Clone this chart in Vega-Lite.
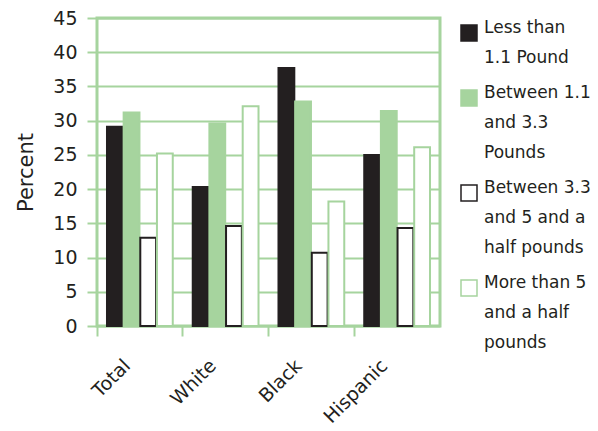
{
  "$schema": "https://vega.github.io/schema/vega-lite/v6.json",
  "width": 343,
  "height": 308,
  "autosize": "none",
  "padding": {"left": 97, "top": 18, "right": 158, "bottom": 105},
  "background": "white",
  "data": {
    "values": [
      {"group": "Total", "weight": "Less than 1.1 Pound", "percent": 29.1},
      {"group": "Total", "weight": "Between 1.1 and 3.3 Pounds", "percent": 31.2},
      {"group": "Total", "weight": "Between 3.3 and 5 and a half pounds", "percent": 12.9},
      {"group": "Total", "weight": "More than 5 and a half pounds", "percent": 25.2},
      {"group": "White", "weight": "Less than 1.1 Pound", "percent": 20.3},
      {"group": "White", "weight": "Between 1.1 and 3.3 Pounds", "percent": 29.6},
      {"group": "White", "weight": "Between 3.3 and 5 and a half pounds", "percent": 14.6},
      {"group": "White", "weight": "More than 5 and a half pounds", "percent": 32.1},
      {"group": "Black", "weight": "Less than 1.1 Pound", "percent": 37.7},
      {"group": "Black", "weight": "Between 1.1 and 3.3 Pounds", "percent": 32.8},
      {"group": "Black", "weight": "Between 3.3 and 5 and a half pounds", "percent": 10.7},
      {"group": "Black", "weight": "More than 5 and a half pounds", "percent": 18.2},
      {"group": "Hispanic", "weight": "Less than 1.1 Pound", "percent": 25.0},
      {"group": "Hispanic", "weight": "Between 1.1 and 3.3 Pounds", "percent": 31.4},
      {"group": "Hispanic", "weight": "Between 3.3 and 5 and a half pounds", "percent": 14.3},
      {"group": "Hispanic", "weight": "More than 5 and a half pounds", "percent": 26.1}
    ]
  },
  "mark": {"type": "bar", "strokeWidth": 2},
  "encoding": {
    "x": {
      "field": "group",
      "type": "nominal",
      "sort": ["Total", "White", "Black", "Hispanic"],
      "scale": {"paddingInner": 0, "paddingOuter": 0},
      "axis": {
        "title": null,
        "labelAngle": -45,
        "labelAlign": "right",
        "labelBaseline": "top",
        "domain": false,
        "ticks": true,
        "tickColor": "#a6d49e",
        "tickWidth": 2,
        "tickSize": 10,
        "bandPosition": 0,
        "labelOffset": -19,
        "labelPadding": 20,
        "labelFont": "DejaVu Sans",
        "labelFontSize": 19,
        "labelColor": "#231f20"
      }
    },
    "xOffset": {
      "field": "weight",
      "type": "nominal",
      "sort": ["Less than 1.1 Pound", "Between 1.1 and 3.3 Pounds", "Between 3.3 and 5 and a half pounds", "More than 5 and a half pounds"],
      "scale": {"paddingInner": 0.05, "paddingOuter": 0.6}
    },
    "y": {
      "field": "percent",
      "type": "quantitative",
      "scale": {"domain": [0, 45], "nice": false},
      "axis": {
        "values": [0, 5, 10, 15, 20, 25, 30, 35, 40, 45],
        "title": "Percent",
        "titleFont": "DejaVu Sans",
        "titleFontSize": 21,
        "titleFontWeight": "normal",
        "titleColor": "#231f20",
        "titlePadding": 16,
        "grid": true,
        "gridColor": "#a6d49e",
        "gridWidth": 2,
        "gridOpacity": 1,
        "domain": false,
        "tickColor": "#a6d49e",
        "tickWidth": 2,
        "tickSize": 10,
        "labelPadding": 10,
        "labelFont": "DejaVu Sans",
        "labelFontSize": 19,
        "labelColor": "#231f20"
      }
    },
    "fill": {
      "field": "weight",
      "type": "nominal",
      "scale": {
        "domain": ["Less than 1.1 Pound", "Between 1.1 and 3.3 Pounds", "Between 3.3 and 5 and a half pounds", "More than 5 and a half pounds"],
        "range": ["#231f20", "#a6d49e", "#ffffff", "#ffffff"]
      },
      "legend": {
        "title": null,
        "orient": "right",
        "offset": 14,
        "padding": 6,
        "symbolType": "square",
        "symbolSize": 256,
        "symbolStrokeWidth": 1.5,
        "symbolOpacity": 1,
        "labelFont": "DejaVu Sans",
        "labelFontSize": 17,
        "labelColor": "#231f20",
        "labelBaseline": "alphabetic",
        "labelOffset": 6,
        "labelLimit": 200,
        "rowPadding": 18,
        "labelExpr": "datum.label == 'Less than 1.1 Pound' ? ['Less than', '1.1 Pound'] : datum.label == 'Between 1.1 and 3.3 Pounds' ? ['Between 1.1', 'and 3.3', 'Pounds'] : datum.label == 'Between 3.3 and 5 and a half pounds' ? ['Between 3.3', 'and 5 and a', 'half pounds'] : ['More than 5', 'and a half', 'pounds']"
      }
    },
    "stroke": {
      "field": "weight",
      "type": "nominal",
      "scale": {
        "domain": ["Less than 1.1 Pound", "Between 1.1 and 3.3 Pounds", "Between 3.3 and 5 and a half pounds", "More than 5 and a half pounds"],
        "range": ["#231f20", "#a6d49e", "#231f20", "#a6d49e"]
      }
    }
  },
  "config": {
    "view": {"stroke": "#a6d49e", "strokeWidth": 3},
    "style": {"guide-label": {"lineHeight": 30}}
  }
}
